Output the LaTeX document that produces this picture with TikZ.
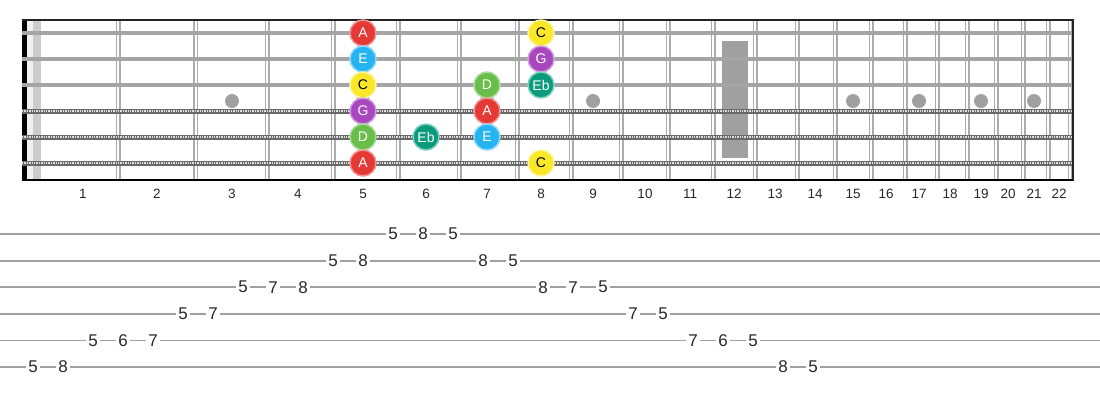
\documentclass[tikz,border=0pt]{standalone}
\usepackage{fontspec}
\setmainfont{Liberation Sans}
\usetikzlibrary{positioning}
\definecolor{wirecolor}{RGB}{172,172,172}
\definecolor{stringcolor}{RGB}{165,165,165}
\definecolor{woundcolor}{RGB}{105,105,105}
\definecolor{inlaycolor}{RGB}{160,160,160}
\definecolor{tabline}{RGB}{160,160,160}
\definecolor{textcolor}{RGB}{40,40,40}
\definecolor{edgecolor}{RGB}{35,35,35}
\definecolor{noteAfill}{RGB}{229,57,53}
\definecolor{noteAring}{RGB}{241,150,150}
\definecolor{noteEfill}{RGB}{38,180,240}
\definecolor{noteEring}{RGB}{140,215,250}
\definecolor{noteCfill}{RGB}{250,232,40}
\definecolor{noteCring}{RGB}{255,245,160}
\definecolor{noteGfill}{RGB}{168,72,190}
\definecolor{noteGring}{RGB}{210,160,222}
\definecolor{noteDfill}{RGB}{104,190,72}
\definecolor{noteDring}{RGB}{170,220,160}
\definecolor{noteEbfill}{RGB}{10,155,125}
\definecolor{noteEbring}{RGB}{130,210,195}
% centre of each fret space, index 0 unused
\def\fretx{{0,83,157,232,298,363,426,487,541,593,645,690,734,775,815,853,886,919,950,981,1008,1034,1059}}
\begin{document}
\begin{tikzpicture}[
    x=1pt, y=-1pt,
    note/.style={circle, minimum size=26pt, inner sep=0pt, line width=1.5pt, font=\fontsize{14}{14}\selectfont},
    notea/.style={note, fill=noteAfill, draw=noteAring, text=white},
    notee/.style={note, fill=noteEfill, draw=noteEring, text=white},
    notec/.style={note, fill=noteCfill, draw=noteCring, text=black},
    noteg/.style={note, fill=noteGfill, draw=noteGring, text=white},
    noted/.style={note, fill=noteDfill, draw=noteDring, text=white},
    noteeb/.style={note, fill=noteEbfill, draw=noteEbring, text=white},
    fretwire/.style={draw=wirecolor, double=white, double distance=2pt, line width=1.5pt},
    plainstring/.style={stringcolor, line width=3.3pt},
    woundbase/.style={woundcolor, line width=5pt},
    woundtop/.style={white!75!gray, line width=2.4pt, dash pattern=on 1.3pt off 1.1pt},
    fretnum/.style={font=\fontsize{13.5}{13.5}\selectfont, text=textcolor},
    tabnum/.style={fill=white, inner sep=2.5pt, font=\fontsize{17}{17}\selectfont, text=textcolor}
]
    \useasboundingbox (0,0) rectangle (1100,400);
    \fill[white] (0,0) rectangle (1100,400);

    % Nut area
    \fill[gray!12] (27,20) rectangle (33,180);
    \fill[gray!40] (33,20) rectangle (41,180);
    \fill[black] (22,20) rectangle (27,180);

    % Fret wires
    \foreach \w in {118,195.5,267,333,398,459,517,571,621,668,713,755,797,835,871,905,937,967,996,1023,1048,1070}
        \draw[fretwire] (\w,20) -- (\w,180);

    % Inlays
    \foreach \f in {3,5,7,9,15,17,19,21}
        \fill[inlaycolor] ({\fretx[\f]},101) circle[radius=7pt];
    \fill[inlaycolor] (722,41) rectangle (748,158);

    % Strings
    \foreach \s in {1,2,3}
        \draw[plainstring] (22,{33+26*(\s-1)}) -- (1073,{33+26*(\s-1)});
    \foreach \s in {4,5,6} {
        \draw[woundbase] (22,{33+26*(\s-1)}) -- (1073,{33+26*(\s-1)});
        \draw[woundtop] (22,{33+26*(\s-1)}) -- (1073,{33+26*(\s-1)});
    }

    % Board edges
    \draw[edgecolor, line width=2pt] (22,20) -- (1074,20);
    \draw[black, line width=2pt] (22,180) -- (1074,180);
    \draw[edgecolor, line width=2pt] (1073,20) -- (1073,180);

    % Fret numbers
    \foreach \f in {1,...,22}
        \node[fretnum] (f\f) at ({\fretx[\f]},194) {\f};

    % Scale notes
    \foreach \s/\f/\nm/\sty in {1/5/A/notea, 1/8/C/notec, 2/5/E/notee, 2/8/G/noteg,
        3/5/C/notec, 3/7/D/noted, 3/8/Eb/noteeb, 4/5/G/noteg, 4/7/A/notea,
        5/5/D/noted, 5/6/Eb/noteeb, 5/7/E/notee, 6/5/A/notea, 6/8/C/notec}
        \node[\sty] (n-\s-\f) at ({\fretx[\f]},{33+26*(\s-1)}) {\nm};

    % Tab lines
    \foreach \l in {1,...,6}
        \draw[tabline, line width=1.8pt] (0,{234+26.6*(\l-1)}) -- (1100,{234+26.6*(\l-1)});

    % Tab numbers
    \foreach \l/\f [count=\i from 0] in {6/5,6/8,5/5,5/6,5/7,4/5,4/7,3/5,3/7,3/8,2/5,2/8,1/5,1/8,
        1/5,2/8,2/5,3/8,3/7,3/5,4/7,4/5,5/7,5/6,5/5,6/8,6/5}
        \node[tabnum] (t\i) at ({33+30*\i},{234+26.6*(\l-1)}) {\f};
\end{tikzpicture}
\end{document}
